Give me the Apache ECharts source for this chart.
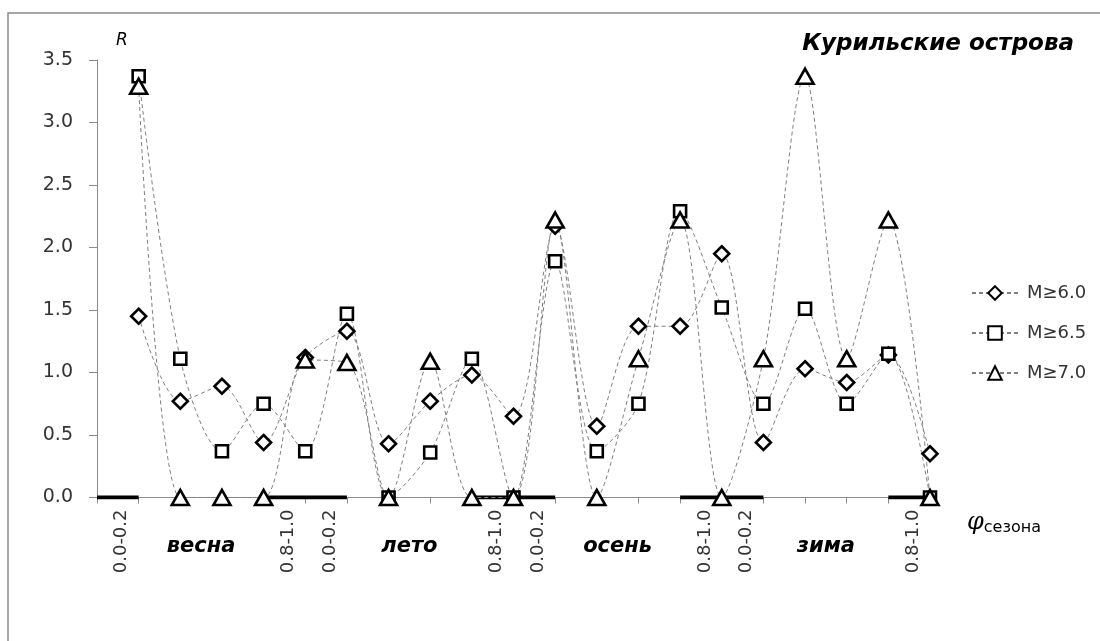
<!DOCTYPE html>
<html><head><meta charset="utf-8">
<script src="https://cdn.jsdelivr.net/npm/echarts@6/dist/echarts.min.js"></script>
<style>html,body{margin:0;padding:0;background:#fff}#c{width:1100px;height:641px}</style>
</head><body><div id="c"></div>
<script>
const seasons = ['весна', 'лето', 'осень', 'зима'];
const bins = ['0.0-0.2', '0.2-0.4', '0.4-0.6', '0.6-0.8', '0.8-1.0'];
const shownBins = ['0.0-0.2', '0.8-1.0'];
const categories = [];
seasons.forEach(s => bins.forEach(b => categories.push(s + ' ' + b)));

const seriesNames = ['M≥6.0', 'M≥6.5', 'M≥7.0'];
const m60 = [1.45, 0.77, 0.89, 0.44, 1.12, 1.33, 0.43, 0.77, 0.98, 0.65, 2.17, 0.57, 1.37, 1.37, 1.95, 0.44, 1.03, 0.92, 1.14, 0.35];
const m65 = [3.37, 1.11, 0.37, 0.75, 0.37, 1.47, 0.00, 0.36, 1.11, 0.00, 1.89, 0.37, 0.75, 2.29, 1.52, 0.75, 1.51, 0.75, 1.15, 0.00];
const m70 = [3.29, 0.00, 0.00, 0.00, 1.10, 1.08, 0.00, 1.09, 0.00, 0.00, 2.22, 0.00, 1.11, 2.22, 0.00, 1.11, 3.37, 1.11, 2.22, 0.00];
const yTicks = [0, 0.5, 1.0, 1.5, 2.0, 2.5, 3.0, 3.5];

const FONT = 'DejaVu Sans';
const chart = echarts.init(document.getElementById('c'));

// thick marks under the edge bins (0.0-0.2 and 0.8-1.0) of every season
const edgeSeg = [];
categories.forEach((c, i) => {
  const b = c.split(' ')[1];
  if (shownBins.includes(b)) { edgeSeg.push([i, 0], [i + 1, 0]); }
  else { edgeSeg.push('-'); }
});

function lineSeries(name, data, symbol, size) {
  return {
    name, type: 'line', xAxisIndex: 2, yAxisIndex: 0,
    data: data.map((v, i) => [i + 1, v]),
    smooth: 0.3,
    symbol, symbolSize: size, showAllSymbol: true,
    lineStyle: { color: '#7f7f7f', width: 1, type: [4, 3] },
    itemStyle: { color: '#ffffff', borderColor: '#000000', borderWidth: 2.6 },
    emphasis: { disabled: true }, animation: false
  };
}

chart.setOption({
  animation: false,
  graphic: [{ type: 'rect', shape: { x: 8, y: 13, width: 1300, height: 800 },
    style: { fill: 'none', stroke: '#8a8a8a', lineWidth: 1.5 }, z: -10 }],
  title: {
    text: 'Курильские острова', right: 21, top: 28,
    textStyle: { fontFamily: FONT, fontWeight: 'bold', fontStyle: 'italic', fontSize: 23, color: '#000' }
  },
  legend: {
    orient: 'vertical', left: 966, top: 279, itemGap: 22,
    itemWidth: 46, itemHeight: 17,
    data: seriesNames,
    textStyle: { fontFamily: FONT, fontSize: 18, color: '#333', padding: [0, 0, 0, 4] }
  },
  grid: { left: 97, right: 170, top: 60, bottom: 143.5, containLabel: false },
  xAxis: [
    {
      type: 'category', data: categories, boundaryGap: true, position: 'bottom',
      axisLine: { show: true, lineStyle: { color: '#8c8c8c', width: 1 } },
      axisTick: { show: true, length: 6, lineStyle: { color: '#8c8c8c' } },
      axisLabel: {
        interval: 0, rotate: 90, margin: 12,
        fontFamily: FONT, fontSize: 18, color: '#333',
        verticalAlign: 'top', lineHeight: 8,
        formatter: v => { const b = v.split(' ')[1]; return shownBins.includes(b) ? b : ''; }
      },
      name: '{phi|φ}{sub|сезона}', nameLocation: 'end', nameGap: 37,
      nameTextStyle: {
        align: 'left', verticalAlign: 'top', padding: [12, 0, 0, 0],
        rich: {
          phi: { fontFamily: 'DejaVu Serif', fontStyle: 'italic', fontSize: 24, color: '#000' },
          sub: { fontFamily: FONT, fontSize: 16, color: '#000', padding: [10, 0, 0, 0] }
        }
      },
      splitLine: { show: false }
    },
    {
      type: 'category', data: categories, boundaryGap: true, position: 'bottom',
      axisLine: { show: false }, axisTick: { show: false },
      axisLabel: {
        interval: 0, margin: 39,
        fontFamily: FONT, fontSize: 21, fontWeight: 'bold', fontStyle: 'italic', color: '#000',
        formatter: (v, idx) => { const parts = v.split(' '); return parts[1] === bins[2] ? parts[0] : ''; }
      },
      splitLine: { show: false }
    },
    { type: 'value', min: 0, max: categories.length, show: false }
  ],
  yAxis: {
    type: 'value', min: yTicks[0], max: yTicks[yTicks.length - 1], interval: 0.5,
    axisLine: { show: true, lineStyle: { color: '#8c8c8c', width: 1 } },
    axisTick: { show: true, inside: false, length: 8, lineStyle: { color: '#8c8c8c' } },
    axisLabel: { margin: 24, fontFamily: FONT, fontSize: 19, color: '#333', formatter: v => v.toFixed(1) },
    splitLine: { show: false },
    name: 'R', nameLocation: 'end', nameGap: 11,
    nameTextStyle: { fontFamily: FONT, fontStyle: 'italic', fontSize: 17, color: '#000', align: 'left', padding: [0, 0, 0, 19] }
  },
  series: [
    {
      name: 'edges', type: 'line', xAxisIndex: 2, yAxisIndex: 0, data: edgeSeg,
      symbol: 'none', connectNulls: false,
      lineStyle: { color: '#000', width: 4 }, silent: true, z: 1
    },
    lineSeries(seriesNames[0], m60, 'diamond', [15, 15]),
    lineSeries(seriesNames[1], m65, 'rect', [12, 12]),
    lineSeries(seriesNames[2], m70, 'triangle', [17, 15])
  ]
});
</script></body></html>
